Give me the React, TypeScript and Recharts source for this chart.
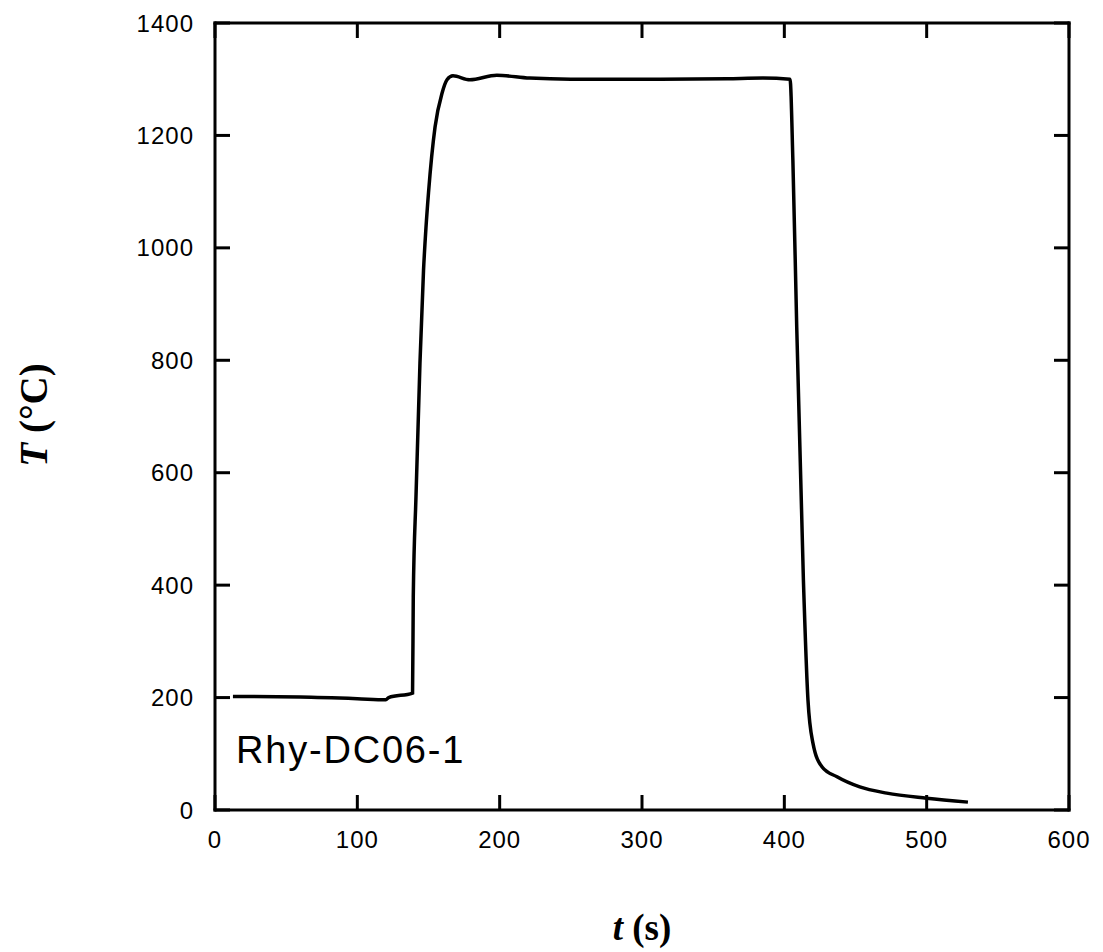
import React from "react";
import { LineChart, Line, XAxis, YAxis } from "recharts";

const timeS = [
  12.6, 60, 100, 120, 122, 138.8, 139.3, 141.2, 144.0, 146.5, 148.2, 150.0, 154.6, 159.5, 163.0, 167.2,
  179, 198, 221, 250, 300, 360, 385, 404, 406, 408.7, 413.4, 416.6, 420.1, 426.4, 437, 453, 472, 500, 529,
];
const tempC = [
  202, 201, 198, 196, 200, 208, 379, 557, 795, 960, 1035, 1098, 1215, 1275, 1299, 1306,
  1299, 1307, 1302, 1300, 1300, 1301, 1302, 1300, 1156, 860, 409, 196, 119, 77, 59, 41, 30, 21, 14,
];
const xTicks = [0, 100, 200, 300, 400, 500, 600];
const yTicks = [0, 200, 400, 600, 800, 1000, 1200, 1400];
const sampleLabel = "Rhy-DC06-1";

const data = timeS.map((t, i) => ({ t, T: tempC[i] }));

const W = 1103;
const H = 952;
const TICK = 15;
const tickFont = "'Liberation Sans', Arial, Helvetica, sans-serif";
const titleFont = "'Liberation Serif', 'Times New Roman', serif";

const BottomTick = (p: any) => (
  <g>
    <line x1={p.x} x2={p.x} y1={p.y} y2={p.y - TICK} stroke="#000" strokeWidth={3} />
    <text x={p.x} y={p.y + 38} textAnchor="middle" fontSize={24} letterSpacing={1} fontFamily={tickFont} fill="#000">
      {p.payload.value}
    </text>
  </g>
);
const TopTick = (p: any) => (
  <g>
    <line x1={p.x} x2={p.x} y1={p.y} y2={p.y + TICK} stroke="#000" strokeWidth={3} />
  </g>
);
const LeftTick = (p: any) => (
  <g>
    <line x1={p.x} x2={p.x + TICK} y1={p.y} y2={p.y} stroke="#000" strokeWidth={3} />
    <text x={p.x - 21} y={p.y + 8.5} textAnchor="end" fontSize={24} letterSpacing={1} fontFamily={tickFont} fill="#000">
      {p.payload.value}
    </text>
  </g>
);
const RightTick = (p: any) => (
  <g>
    <line x1={p.x} x2={p.x - TICK} y1={p.y} y2={p.y} stroke="#000" strokeWidth={3} />
  </g>
);

const axisLine = { stroke: "#000", strokeWidth: 3, strokeLinecap: "square" as const };

export default function App() {
  return (
    <div style={{ position: "absolute", left: 0, top: 0, width: W, height: H, background: "#fff" }}>
      <LineChart width={W} height={H} data={data} margin={{ top: 22, right: 33, bottom: 141, left: 214 }}>
        <XAxis
          xAxisId="b"
          dataKey="t"
          type="number"
          domain={[0, 600]}
          ticks={xTicks}
          interval={0}
          allowDataOverflow
          orientation="bottom"
          height={1}
          tickSize={0}
          tickMargin={0}
          tickLine={false}
          axisLine={axisLine}
          tick={BottomTick}
        />
        <XAxis
          xAxisId="top"
          dataKey="t"
          type="number"
          domain={[0, 600]}
          ticks={xTicks}
          interval={0}
          allowDataOverflow
          orientation="top"
          height={1}
          tickSize={0}
          tickMargin={0}
          tickLine={false}
          axisLine={axisLine}
          tick={TopTick}
        />
        <YAxis
          yAxisId="l"
          type="number"
          domain={[0, 1400]}
          ticks={yTicks}
          interval={0}
          allowDataOverflow
          orientation="left"
          width={1}
          tickSize={0}
          tickMargin={0}
          tickLine={false}
          axisLine={axisLine}
          tick={LeftTick}
        />
        <YAxis
          yAxisId="r"
          type="number"
          domain={[0, 1400]}
          ticks={yTicks}
          interval={0}
          allowDataOverflow
          orientation="right"
          width={1}
          tickSize={0}
          tickMargin={0}
          tickLine={false}
          axisLine={axisLine}
          tick={RightTick}
        />
        <Line
          xAxisId="b"
          yAxisId="l"
          dataKey="T"
          type="monotone"
          stroke="#000"
          strokeWidth={3.5}
          dot={false}
          activeDot={false}
          isAnimationActive={false}
        />
      </LineChart>
      <svg width={W} height={H} style={{ position: "absolute", left: 0, top: 0, pointerEvents: "none" }}>
        <text x={236} y={763} fontSize={38} letterSpacing={1.8} fontFamily={tickFont} fill="#000">
          {sampleLabel}
        </text>
        <text x={642} y={940} textAnchor="middle" fontSize={37} fontWeight="bold" fontFamily={titleFont} fill="#000">
          <tspan fontStyle="italic">t</tspan>
          <tspan> (s)</tspan>
        </text>
        <text
          x={47}
          y={415}
          textAnchor="middle"
          fontSize={39}
          fontWeight="bold"
          fontFamily={titleFont}
          fill="#000"
          transform="rotate(-90 47 415)"
        >
          <tspan fontStyle="italic">T</tspan>
          <tspan> (°C)</tspan>
        </text>
      </svg>
    </div>
  );
}
